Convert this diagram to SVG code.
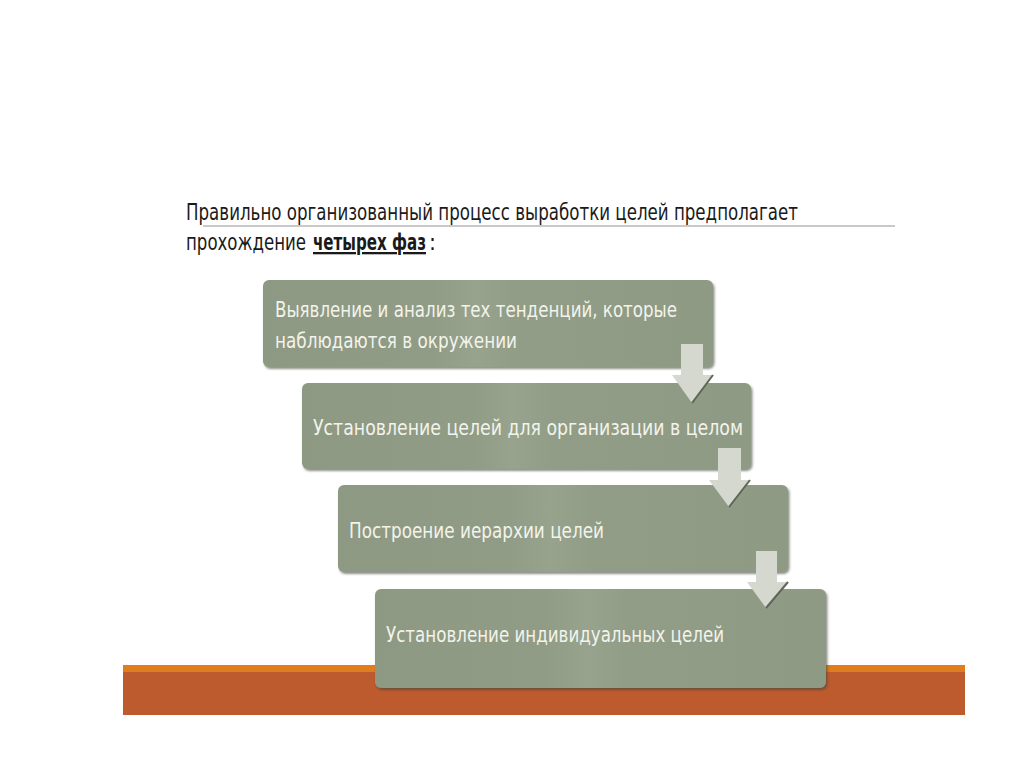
<svg xmlns="http://www.w3.org/2000/svg" width="1024" height="767" viewBox="0 0 1024 767">
  <defs>
    <linearGradient id="boxg" x1="0" y1="0" x2="1" y2="0">
      <stop offset="0" stop-color="#8d9982"/>
      <stop offset="0.38" stop-color="#909c85"/>
      <stop offset="0.47" stop-color="#98a38d"/>
      <stop offset="0.56" stop-color="#919d86"/>
      <stop offset="1" stop-color="#8e9a83"/>
    </linearGradient>
    <filter id="sh" x="-5%" y="-10%" width="110%" height="130%">
      <feDropShadow dx="1.5" dy="2" stdDeviation="1.2" flood-color="#3f4438" flood-opacity="0.6"/>
    </filter>
  </defs>
  <style>
    .box { fill: url(#boxg); filter: url(#sh); }
    .bt { font-family: "Liberation Sans Narrow", "DejaVu Sans Condensed", "Open Sans", sans-serif; font-size: 22px; fill: #f3f3ec; }
    .tt { font-family: "Liberation Sans Narrow", "DejaVu Sans Condensed", "Open Sans", sans-serif; font-size: 23px; fill: #1a1a1a; }
    .arrow { fill: #d4d8cf; }
    .edge { stroke: #5f6558; stroke-width: 2; fill: none; }
  </style>
  <rect width="1024" height="767" fill="#ffffff"/>

  <!-- title -->
  <g id="title">
    <line x1="203" y1="226" x2="895" y2="226" stroke="#c9c9c9" stroke-width="2"/>
    <text class="tt" x="186" y="220" textLength="612" lengthAdjust="spacingAndGlyphs">Правильно организованный процесс выработки целей предполагает</text>
    <text class="tt" x="186" y="250" textLength="120" lengthAdjust="spacingAndGlyphs">прохождение</text>
    <text class="tt" x="313" y="250" textLength="113" lengthAdjust="spacingAndGlyphs" font-weight="bold" text-decoration="underline">четырех фаз</text>
    <text class="tt" x="429" y="250">:</text>
  </g>

  <!-- bottom bar -->
  <g id="bar">
    <rect x="123" y="665" width="842" height="50" fill="#bd5a2e"/>
    <rect x="123" y="665" width="842" height="7" fill="#e07d1f"/>
  </g>

  <g id="node1">
    <rect class="box" x="263" y="280" width="450" height="87" rx="6"/>
    <text class="bt" x="275" y="317" textLength="402" lengthAdjust="spacingAndGlyphs">Выявление и анализ тех тенденций, которые</text>
    <text class="bt" x="275" y="348" textLength="242" lengthAdjust="spacingAndGlyphs">наблюдаются в окружении</text>
  </g>
  <g id="node2">
    <rect class="box" x="302" y="383" width="449" height="86" rx="6"/>
    <text class="bt" x="313" y="435" textLength="430" lengthAdjust="spacingAndGlyphs">Установление целей для организации в целом</text>
  </g>
  <g id="node3">
    <rect class="box" x="338" y="485" width="450" height="87" rx="6"/>
    <text class="bt" x="349" y="538" textLength="255" lengthAdjust="spacingAndGlyphs">Построение иерархии целей</text>
  </g>
  <g id="node4">
    <rect class="box" x="375" y="589" width="451" height="99" rx="6"/>
    <text class="bt" x="386" y="642" textLength="338" lengthAdjust="spacingAndGlyphs">Установление индивидуальных целей</text>
  </g>

  <g id="connectors">
    <path class="arrow" d="M681 344 H703 V375 H713 L692 403 L672 375 H681 Z"/>
    <path class="edge" d="M713 375 L692 403"/>
    <path class="arrow" d="M718 448 H741 V480 H750 L729 507 L709 480 H718 Z"/>
    <path class="edge" d="M750 480 L729 507"/>
    <path class="arrow" d="M756 551 H777 V582 H788 L766 608 L747 582 H756 Z"/>
    <path class="edge" d="M788 582 L766 608"/>
  </g>
</svg>
